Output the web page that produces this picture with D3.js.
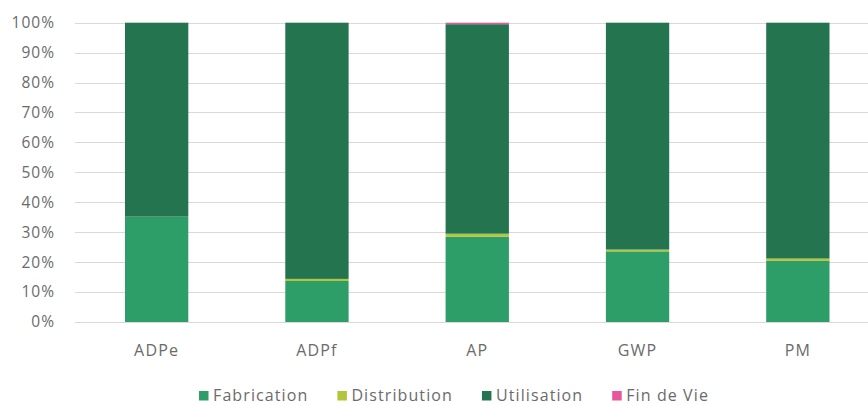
<!DOCTYPE html>
<html>
<head>
<meta charset="utf-8">
<script src="https://cdn.jsdelivr.net/npm/d3@7"></script>
<style>
  body { margin: 0; background: #fff; }
  svg { display: block; }
  text { font-family: 'Open Sans', sans-serif; fill: #6b6b6b; }
</style>
</head>
<body>
<svg id="chart"></svg>
<script>
(function () {
  var width = 868; var height = 405

  var categories = ['ADPe', 'ADPf', 'AP', 'GWP', 'PM']
  var series = ['Fabrication', 'Distribution', 'Utilisation', 'Fin de Vie']
  var fabrication = [35.2, 13.7, 28.5, 23.6, 20.4]
  var distribution = [0, 0.7, 1.0, 0.6, 0.8]
  var utilisation = [64.8, 85.6, 70.0, 75.8, 78.8]
  var finDeVie = [0, 0, 0.5, 0, 0]
  var yTicks = [0, 10, 20, 30, 40, 50, 60, 70, 80, 90, 100]
  var colors = ['#2e9e68', '#b3c53a', '#24754f', '#e8579c']

  var rows = categories.map((c, i) => ({
    cat: c,
    'Fabrication': fabrication[i],
    'Distribution': distribution[i],
    'Utilisation': utilisation[i],
    'Fin de Vie': finDeVie[i]
  }))

  var svg = d3.select('#chart')
    .attr('width', width)
    .attr('height', height)

  const x = d3.scaleBand()
    .domain(categories)
    .range([76.5, 878])
    .paddingInner(0.605)
    .paddingOuter(0.3025)

  const y = d3.scaleLinear()
    .domain([0, 100])
    .range([322, 22.7])

  const color = d3.scaleOrdinal()
    .domain(series)
    .range(colors)

  // gridlines
  svg.append('g')
    .selectAll('line')
    .data(yTicks)
    .enter().append('line')
    .attr('x1', 75)
    .attr('x2', width)
    .attr('y1', d => Math.round(y(d)) + 0.5)
    .attr('y2', d => Math.round(y(d)) + 0.5)
    .attr('stroke', '#d9d9d9')
    .attr('stroke-width', 1.2)

  // y labels
  svg.append('g')
    .selectAll('text')
    .data(yTicks)
    .enter().append('text')
    .attr('x', 55)
    .attr('y', d => y(d))
    .attr('dy', '0.35em')
    .attr('text-anchor', 'end')
    .style('font-size', '15.5px')
    .style('letter-spacing', '1px')
    .text(d => d + '%')

  var stacked = d3.stack().keys(series)(rows)

  svg.append('g')
    .selectAll('g')
    .data(stacked)
    .enter().append('g')
    .attr('fill', d => color(d.key))
    .selectAll('rect')
    .data(d => d)
    .enter().append('rect')
    .attr('x', d => x(d.data.cat))
    .attr('width', x.bandwidth())
    .attr('y', d => y(d[1]))
    .attr('height', d => y(d[0]) - y(d[1]))

  // category labels
  svg.append('g')
    .selectAll('text')
    .data(categories)
    .enter().append('text')
    .attr('x', d => x(d) + x.bandwidth() / 2)
    .attr('y', 356)
    .attr('text-anchor', 'middle')
    .style('font-size', '16px')
    .style('letter-spacing', '1.2px')
    .text(d => d)

  // legend
  var legend = svg.append('g')
  var lx = 0
  series.forEach((s, i) => {
    var item = legend.append('g').attr('transform', 'translate(' + lx + ',0)')
    item.append('rect')
      .attr('x', 0)
      .attr('y', 391)
      .attr('width', 9.5)
      .attr('height', 9.5)
      .attr('fill', color(s))
    var t = item.append('text')
      .attr('x', 14)
      .attr('y', 401)
      .style('font-size', '16px')
      .style('letter-spacing', '1.1px')
      .text(s)
    lx += 14 + t.node().getComputedTextLength() + 29
  })
  var total = lx - 29
  legend.attr('transform', 'translate(' + (454 - total / 2) + ',0)')
})()
</script>
</body>
</html>
